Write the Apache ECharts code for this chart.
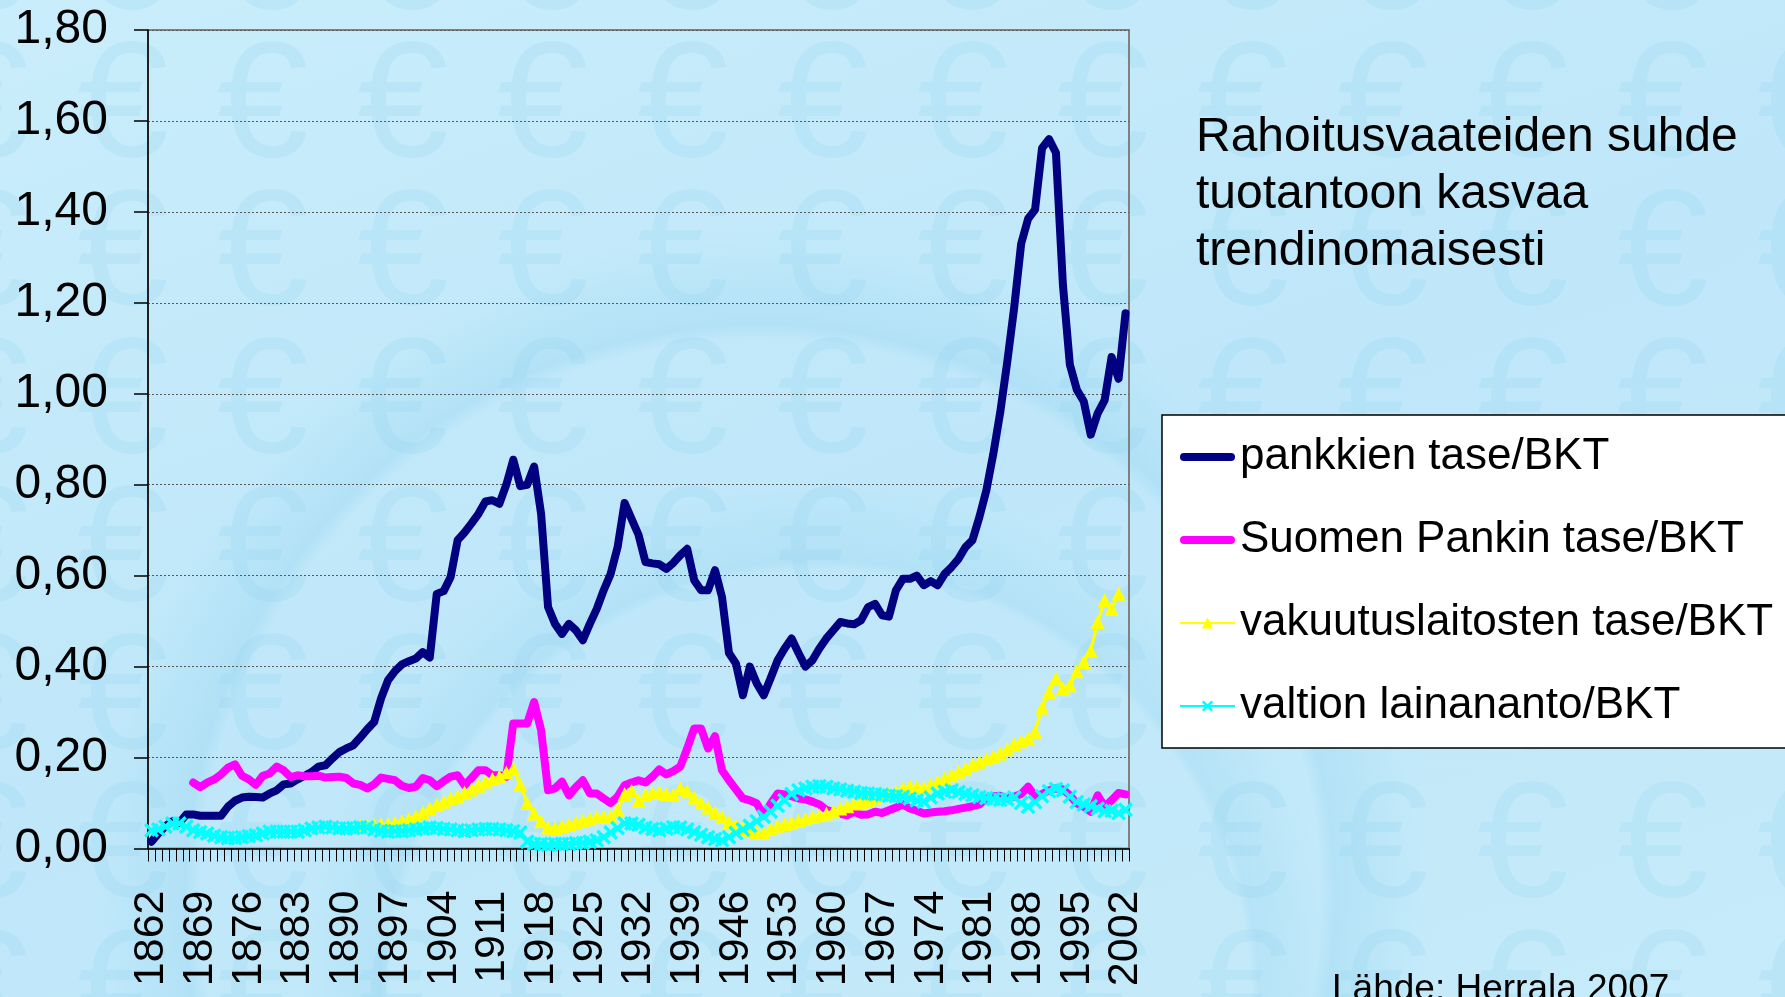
<!DOCTYPE html>
<html>
<head>
<meta charset="utf-8">
<title>Rahoitusvaateiden suhde tuotantoon</title>
<script src="https://cdn.jsdelivr.net/npm/echarts@6/dist/echarts.min.js"></script>
<style>
html, body { margin: 0; padding: 0; }
#chart {
  width: 1785px;
  height: 997px;
  background-color: #c4eafa;
}
</style>
</head>
<body>
<div id="chart"></div>
<script>
// years 1862 ... 2002, one category per year
const firstYear = 1862;
const lastYear = 2002;
const years = [];
for (let y = firstYear; y <= lastYear; y++) years.push(String(y));

const seriesNames = [
  'pankkien tase/BKT',
  'Suomen Pankin tase/BKT',
  'vakuutuslaitosten tase/BKT',
  'valtion lainananto/BKT',
];

// pankkien tase/BKT
const banks = [
  0.015, 0.033, 0.049, 0.06, 0.056, 0.075, 0.075, 0.072, // 1862-1869
  0.072, 0.072, 0.072, 0.092, 0.105, 0.112, 0.114, 0.113, 0.112, 0.121,
  0.128, 0.141, 0.143, 0.152, 0.16, 0.168, 0.18, 0.183, 0.198, 0.212,
  0.22, 0.227, 0.244, 0.262, 0.278, 0.33, 0.37, 0.39, 0.405, 0.412,
  0.418, 0.432, 0.42, 0.56, 0.566, 0.597, 0.678, 0.695, 0.715, 0.736,
  0.763, 0.766, 0.758, 0.80, 0.855, 0.797, 0.80, 0.84, 0.736, 0.531,
  0.494, 0.472, 0.494, 0.48, 0.458, 0.494, 0.527, 0.568, 0.604, 0.663,
  0.76, 0.725, 0.69, 0.63, 0.627, 0.625, 0.615, 0.628, 0.645, 0.659,
  0.59, 0.568, 0.568, 0.612, 0.553, 0.43, 0.407, 0.337, 0.40, 0.363,
  0.337, 0.375, 0.414, 0.44, 0.462, 0.43, 0.40, 0.414, 0.44, 0.462,
  0.48, 0.498, 0.495, 0.493, 0.502, 0.531, 0.538, 0.513, 0.51, 0.568,
  0.593, 0.593, 0.60, 0.579, 0.588, 0.579, 0.604, 0.619, 0.637, 0.663,
  0.678, 0.729, 0.788, 0.868, 0.96, 1.07, 1.19, 1.33, 1.385, 1.405,
  1.54, 1.56, 1.53, 1.24, 1.064, 1.009, 0.983, 0.91, 0.957, 0.986,
  1.081, 1.033, 1.177, // 2000-2002
];

// Suomen Pankin tase/BKT
const centralBank = [
  null, null, null, null, null, null, 0.145, 0.135,
  0.145, 0.152, 0.163, 0.178, 0.185, 0.16, 0.152, 0.14, 0.16, 0.165,
  0.18, 0.172, 0.157, 0.161, 0.159, 0.159, 0.16, 0.156, 0.157, 0.158,
  0.155, 0.143, 0.14, 0.132, 0.141, 0.156, 0.153, 0.15, 0.138, 0.133,
  0.136, 0.155, 0.15, 0.137, 0.148, 0.158, 0.161, 0.139, 0.155, 0.172,
  0.172, 0.161, 0.161, 0.158, 0.275, 0.275, 0.275, 0.322, 0.26, 0.128,
  0.132, 0.147, 0.117, 0.135, 0.15, 0.121, 0.121, 0.11, 0.10, 0.114,
  0.139, 0.145, 0.15, 0.145, 0.158, 0.174, 0.163, 0.17, 0.18, 0.22,
  0.264, 0.264, 0.22, 0.247, 0.172, 0.15, 0.13, 0.11, 0.106, 0.099,
  0.073, 0.099, 0.121, 0.119, 0.115, 0.11, 0.108, 0.103, 0.097, 0.085,
  0.08, 0.076, 0.073, 0.081, 0.074, 0.075, 0.081, 0.078, 0.084, 0.09,
  0.097, 0.088, 0.083, 0.077, 0.079, 0.081, 0.082, 0.084, 0.087, 0.09,
  0.093, 0.097, 0.11, 0.115, 0.116, 0.11, 0.114, 0.12, 0.136, 0.115,
  0.12, 0.128, 0.132, 0.13, 0.117, 0.099, 0.092, 0.081, 0.117, 0.092,
  0.106, 0.122, 0.119,
];

// vakuutuslaitosten tase/BKT
const insurance = [
  null, null, null, null, null, null, null, null,
  null, null, null, null, null, null, null, null, null, null,
  null, null, null, null, null, null, null, null, null, null,
  null, null, 0.05, 0.051, 0.052, 0.053, 0.054, 0.056, 0.06, 0.065,
  0.071, 0.079, 0.088, 0.096, 0.103, 0.11, 0.115, 0.123, 0.13, 0.138,
  0.147, 0.153, 0.158, 0.167, 0.176, 0.14, 0.10, 0.077, 0.06, 0.046,
  0.045, 0.049, 0.053, 0.057, 0.061, 0.065, 0.069, 0.07, 0.07, 0.085,
  0.12, 0.127, 0.105, 0.118, 0.122, 0.124, 0.12, 0.118, 0.133, 0.126,
  0.112, 0.10, 0.09, 0.079, 0.069, 0.058, 0.05, 0.045, 0.04, 0.036,
  0.034, 0.043, 0.05, 0.054, 0.057, 0.061, 0.065, 0.069, 0.073, 0.077,
  0.082, 0.088, 0.093, 0.099, 0.102, 0.106, 0.112, 0.118, 0.121, 0.125,
  0.132, 0.137, 0.136, 0.134, 0.14, 0.147, 0.154, 0.161, 0.169, 0.176,
  0.184, 0.191, 0.197, 0.203, 0.209, 0.218, 0.23, 0.236, 0.242, 0.257,
  0.31, 0.344, 0.374, 0.352, 0.359, 0.39, 0.41, 0.435, 0.498, 0.546,
  0.527, 0.56, null,
];

// valtion lainananto/BKT
const stateLending = [
  0.04, 0.042, 0.048, 0.055, 0.055, 0.048, 0.04, 0.036,
  0.033, 0.028, 0.025, 0.023, 0.023, 0.025, 0.027, 0.029, 0.033, 0.037,
  0.037, 0.037, 0.037, 0.037, 0.04, 0.044, 0.046, 0.048, 0.046, 0.044,
  0.044, 0.045, 0.047, 0.046, 0.042, 0.039, 0.037, 0.038, 0.038, 0.04,
  0.042, 0.044, 0.046, 0.045, 0.043, 0.042, 0.04, 0.038, 0.04, 0.042,
  0.043, 0.043, 0.042, 0.04, 0.038, 0.035, 0.015, 0.01, 0.01, 0.008,
  0.01, 0.01, 0.01, 0.012, 0.012, 0.015, 0.018, 0.025, 0.035, 0.045,
  0.055, 0.055, 0.052, 0.046, 0.043, 0.04, 0.044, 0.047, 0.046, 0.042,
  0.036, 0.03, 0.025, 0.021, 0.018, 0.025, 0.034, 0.042, 0.05, 0.06,
  0.07, 0.081, 0.094, 0.106, 0.12, 0.128, 0.132, 0.136, 0.137, 0.136,
  0.132, 0.13, 0.127, 0.125, 0.122, 0.121, 0.12, 0.118, 0.116, 0.115,
  0.114, 0.11, 0.106, 0.103, 0.112, 0.121, 0.125, 0.128, 0.124, 0.12,
  0.117, 0.113, 0.111, 0.109, 0.107, 0.108, 0.112, 0.10, 0.092, 0.102,
  0.115, 0.126, 0.131, 0.128, 0.114, 0.102, 0.097, 0.093, 0.088, 0.082,
  0.083, 0.078, 0.085,
];

const yMin = 0;
const yMax = 1.8;
const yStep = 0.2;

const fontFamily = '"Liberation Sans", Arial, sans-serif';

// background: faint euro signs and a couple of soft arcs
const euroTile = '<svg xmlns="http://www.w3.org/2000/svg" width="140" height="148">'
  + '<text x="70" y="133" font-family="Liberation Sans, Arial" font-size="165" '
  + 'text-anchor="middle" fill="#8fcfee" fill-opacity="0.22">\u20ac</text></svg>';
const bg = document.getElementById('chart');
bg.style.backgroundImage = 'url("data:image/svg+xml,' + encodeURIComponent(euroTile) + '"),'
  + 'radial-gradient(circle at 760px 900px, rgba(255,255,255,0) 560px, rgba(150,212,240,0.35) 575px, rgba(190,232,250,0.25) 660px, rgba(255,255,255,0) 670px),'
  + 'radial-gradient(circle at 820px 1000px, rgba(255,255,255,0) 430px, rgba(150,212,240,0.3) 440px, rgba(190,232,250,0.2) 520px, rgba(255,255,255,0) 530px),'
  + 'linear-gradient(160deg, #c9edfb 0%, #bfe7f9 50%, #c6ebfa 100%)';
bg.style.backgroundPosition = '53px 23px, 0 0, 0 0, 0 0';
bg.style.backgroundRepeat = 'repeat, no-repeat, no-repeat, no-repeat';

// x-shaped marker for the state lending series
const crossSymbol = 'path://M0,1.6L1.6,0L5,3.4L8.4,0L10,1.6L6.6,5L10,8.4L8.4,10L5,6.6L1.6,10L0,8.4L3.4,5Z';

const chart = echarts.init(document.getElementById('chart'));

const thickLine = (color) => ({
  color,
  width: 8,
  cap: 'round',
  join: 'round',
});

const option = {
  animation: false,
  textStyle: { fontFamily },
  grid: {
    left: 148,
    top: 30,
    width: 981,
    height: 818.5,
    show: true,
    borderColor: '#808080',
    borderWidth: 2,
    containLabel: false,
    outerBoundsMode: 'none',
  },
  legend: {
    orient: 'vertical',
    left: 1162,
    top: 415,
    selectedMode: false,
    backgroundColor: '#ffffff',
    borderColor: '#000000',
    borderWidth: 1.5,
    borderRadius: 0,
    padding: [20, 40, 20, 17],
    itemWidth: 55,
    itemHeight: 14,
    itemGap: 39,
    itemTextGap: 4,
    textStyle: {
      fontFamily,
      fontSize: 44,
      lineHeight: 44,
      color: '#000000',
    },
    data: [
      { name: seriesNames[0], icon: 'path://M4,0H51A4,4,0,0,1,51,8H4A4,4,0,0,1,4,0Z', itemStyle: { color: '#000080' } },
      { name: seriesNames[1], icon: 'path://M4,0H51A4,4,0,0,1,51,8H4A4,4,0,0,1,4,0Z', itemStyle: { color: '#ff00ff' } },
      { name: seriesNames[2] },
      { name: seriesNames[3] },
    ],
  },
  graphic: [
    {
      type: 'text',
      left: 1196,
      top: 109,
      style: {
        text: 'Rahoitusvaateiden suhde\ntuotantoon kasvaa\ntrendinomaisesti',
        font: '48px "Liberation Sans", Arial, sans-serif',
        lineHeight: 57,
        fill: '#000000',
      },
    },
    {
      type: 'text',
      left: 1332,
      top: 971,
      style: {
        text: 'Lähde: Herrala 2007',
        font: '37px "Liberation Sans", Arial, sans-serif',
        fill: '#000000',
      },
    },
  ],
  xAxis: {
    type: 'category',
    data: years,
    boundaryGap: true,
    axisLine: { lineStyle: { color: '#000000', width: 1.5 } },
    axisTick: {
      show: true,
      interval: 0,
      length: 13,
      lineStyle: { color: '#000000', width: 1 },
    },
    axisLabel: {
      interval: 6,
      rotate: 90,
      margin: 42,
      fontSize: 43,
      color: '#000000',
      fontFamily,
    },
    splitLine: { show: false },
  },
  yAxis: {
    type: 'value',
    min: yMin,
    max: yMax,
    interval: yStep,
    axisLine: { show: true, lineStyle: { color: '#000000', width: 1.5 } },
    axisTick: { show: true, length: 14, lineStyle: { color: '#000000', width: 1.5 } },
    axisLabel: {
      margin: 40,
      fontSize: 48,
      color: '#000000',
      fontFamily,
      formatter(v) {
        return v.toFixed(2).replace('.', ',');
      },
    },
    splitLine: {
      show: true,
      lineStyle: { color: '#5a5a5a', width: 1, type: [2, 2] },
    },
  },
  series: [
    {
      name: seriesNames[0],
      type: 'line',
      data: banks,
      symbol: 'none',
      lineStyle: thickLine('#000080'),
      itemStyle: { color: '#000080' },
      emphasis: { disabled: true },
      z: 2,
    },
    {
      name: seriesNames[1],
      type: 'line',
      data: centralBank,
      symbol: 'none',
      lineStyle: thickLine('#ff00ff'),
      itemStyle: { color: '#ff00ff' },
      emphasis: { disabled: true },
      z: 3,
    },
    {
      name: seriesNames[2],
      type: 'line',
      data: insurance,
      symbol: 'triangle',
      symbolSize: 14,
      showAllSymbol: true,
      lineStyle: { color: '#ffff00', width: 3 },
      itemStyle: { color: '#ffff00', borderWidth: 0 },
      emphasis: { disabled: true },
      z: 4,
    },
    {
      name: seriesNames[3],
      type: 'line',
      data: stateLending,
      symbol: crossSymbol,
      symbolSize: 15,
      showAllSymbol: true,
      lineStyle: { color: '#00ffff', width: 3 },
      itemStyle: { color: '#00ffff', borderWidth: 0 },
      emphasis: { disabled: true },
      z: 5,
    },
  ],
};

chart.setOption(option);
</script>
</body>
</html>
